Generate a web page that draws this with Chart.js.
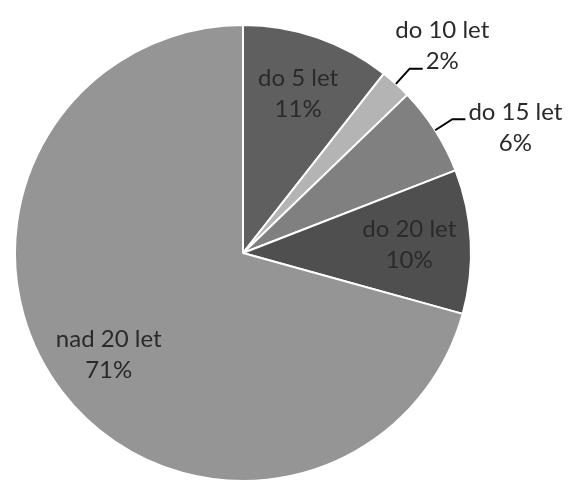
<!DOCTYPE html>
<html>
<head>
<meta charset="utf-8">
<script src="https://cdn.jsdelivr.net/npm/chart.js@4"></script>
<style>
html,body{margin:0;padding:0;background:#fff;}
#wrap{width:568px;height:483px;}
</style>
</head>
<body>
<div id="wrap"><canvas id="c" width="568" height="483"></canvas></div>
<script>
const categories = ["do 5 let", "do 10 let", "do 15 let", "do 20 let", "nad 20 let"];
const values = [10.6, 2.2, 6.3, 10.2, 70.7];
const colors = ["#5f5f5f", "#b4b4b4", "#808080", "#4f4f4f", "#959595"];
// label placement: inside (fraction of radius) or outside with leader line
const placement = [
  {type: "inside", r: 0.74},
  {type: "outside", anchorLine: 1},
  {type: "outside", anchorLine: 0},
  {type: "inside", r: 0.73},
  {type: "inside", r: 0.74}
];

const FONT = '24px Lato, "Open Sans", sans-serif';
const LINE_H = 31;

const labelPlugin = {
  id: "pieLabels",
  afterDatasetsDraw(chart) {
    const ctx = chart.ctx;
    const meta = chart.getDatasetMeta(0);
    const total = values.reduce((a, b) => a + b, 0);
    ctx.save();
    ctx.font = FONT;
    ctx.fillStyle = "#2a2a2a";
    ctx.textBaseline = "middle";
    ctx.textAlign = "center";
    meta.data.forEach((arc, i) => {
      const p = arc.getProps(["x", "y", "startAngle", "endAngle", "outerRadius"], true);
      const mid = (p.startAngle + p.endAngle) / 2;
      const lines = [categories[i], Math.round(values[i] / total * 100) + "%"];
      const pl = placement[i];
      if (pl.type === "inside") {
        const cx = p.x + Math.cos(mid) * p.outerRadius * pl.r;
        const cy = p.y + Math.sin(mid) * p.outerRadius * pl.r;
        ctx.fillText(lines[0], cx, cy - LINE_H / 2);
        ctx.fillText(lines[1], cx, cy + LINE_H / 2);
      } else {
        const sx = p.x + Math.cos(mid) * p.outerRadius;
        const sy = p.y + Math.sin(mid) * p.outerRadius;
        const ex = p.x + Math.cos(mid) * p.outerRadius * 1.09;
        const ey = p.y + Math.sin(mid) * p.outerRadius * 1.09;
        const hx = ex + 13;
        ctx.strokeStyle = "#000";
        ctx.lineWidth = 2;
        ctx.beginPath();
        ctx.moveTo(sx, sy);
        ctx.lineTo(ex, ey);
        ctx.lineTo(hx, ey);
        ctx.stroke();
        const a = pl.anchorLine;
        const w = ctx.measureText(lines[a]).width;
        const blockCx = hx + 3 + w / 2;
        const lineY0 = ey - 7 - a * LINE_H;
        ctx.fillText(lines[0], blockCx, lineY0);
        ctx.fillText(lines[1], blockCx, lineY0 + LINE_H);
      }
    });
    ctx.restore();
  }
};

new Chart(document.getElementById("c"), {
  type: "pie",
  data: {
    labels: categories,
    datasets: [{
      data: values,
      backgroundColor: colors,
      borderColor: "#ffffff",
      borderWidth: 2
    }]
  },
  options: {
    responsive: false,
    animation: false,
    radius: 228,
    layout: {padding: {left: 0, right: 82, top: 23, bottom: 0}},
    plugins: {
      legend: {display: false},
      tooltip: {enabled: false}
    }
  },
  plugins: [labelPlugin]
});
</script>
</body>
</html>
